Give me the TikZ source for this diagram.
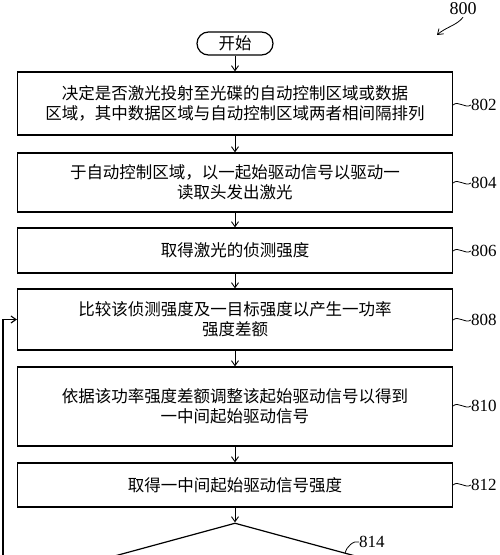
\documentclass[tikz,border=0pt]{standalone}
\usepackage{fontspec}
\setmainfont{Liberation Serif}
\newfontfamily\cjk{Noto Sans CJK SC}
\usetikzlibrary{arrows.meta,shapes.geometric,shadows,calc}
\begin{document}
\begin{tikzpicture}[x=1pt,y=-1pt,
  txt/.style={font=\cjk\fontsize{16.5}{20}\selectfont},
  box/.style={txt, draw, line width=1.2pt, minimum width=435pt, inner sep=0pt,
    align=center, fill=white,
    drop shadow={shadow xshift=0.9pt, shadow yshift=-0.9pt, fill=black, opacity=1}},
  startbox/.style={txt, draw, line width=1.2pt, rounded corners=11.5pt,
    minimum width=76pt, minimum height=23pt, inner sep=0pt},
  lbl/.style={font=\fontsize{17}{17}\selectfont, inner sep=0pt, anchor=west},
  arr/.style={-{Straight Barb[length=5pt,width=7pt]}, line width=0.9pt},
  tick/.style={line width=0.8pt}
]
\useasboundingbox (0,0) rectangle (500,555);
\clip (0,0) rectangle (500,555);

\node[startbox] (start) at (235,43.5) {开始};

\node[box, minimum height=63pt] (b802) at (235,103.5)
  {决定是否激光投射至光碟的自动控制区域或数据\\区域，其中数据区域与自动控制区域两者相间隔排列};
\node[box, minimum height=59pt] (b804) at (235,182.5)
  {于自动控制区域，以一起始驱动信号以驱动一\\读取头发出激光};
\node[box, minimum height=45pt] (b806) at (235,250.5)
  {取得激光的侦测强度};
\node[box, minimum height=61pt] (b808) at (235,319.5)
  {比较该侦测强度及一目标强度以产生一功率\\强度差额};
\node[box, minimum height=79pt] (b810) at (235,406.5)
  {依据该功率强度差额调整该起始驱动信号以得到\\一中间起始驱动信号};
\node[box, minimum height=44pt] (b812) at (235,485)
  {取得一中间起始驱动信号强度};

\node[draw, diamond, line width=1.2pt, minimum width=440pt, minimum height=120pt,
  inner sep=0pt] (d814) at (235,583) {};

% flow arrows
\draw[arr] (start) -- (b802);
\draw[arr] (b802) -- (b804);
\draw[arr] (b804) -- (b806);
\draw[arr] (b806) -- (b808);
\draw[arr] (b808) -- (b810);
\draw[arr] (b810) -- (b812);
\draw[arr] (b812) -- (d814.north);

% feedback loop
\coordinate (fb) at (3,560);
\draw[arr, line width=1.1pt] (fb) |- (b808.west);

% reference labels
\node[lbl] (l802) at (471,105) {802};
\node[lbl] (l804) at (471,183) {804};
\node[lbl] (l806) at (471,251) {806};
\node[lbl] (l808) at (471,320) {808};
\node[lbl] (l810) at (471,406) {810};
\node[lbl] (l812) at (471,485) {812};
\node[lbl] (l814) at (359,542) {814};
\node[font=\fontsize{18}{18}\selectfont, inner sep=0pt] (l800) at (463,9) {800};

\foreach \n in {802,804,806,808,810,812}{
  \draw[tick] (b\n.east |- l\n.west) .. controls +(5,-5) and +(-6,4) .. (l\n.west);
}
\coordinate (e814) at ($(d814.north)!0.5!(d814.east)$);
\draw[tick] (l814.west) .. controls +(-5,-2) and +(1,-6) .. (e814);

\coordinate (a800) at (437,35);
\draw[arr, line width=0.8pt] ([yshift=-2pt]l800.south) .. controls +(-6,8) and +(9,-8) .. (a800);
\end{tikzpicture}
\end{document}
